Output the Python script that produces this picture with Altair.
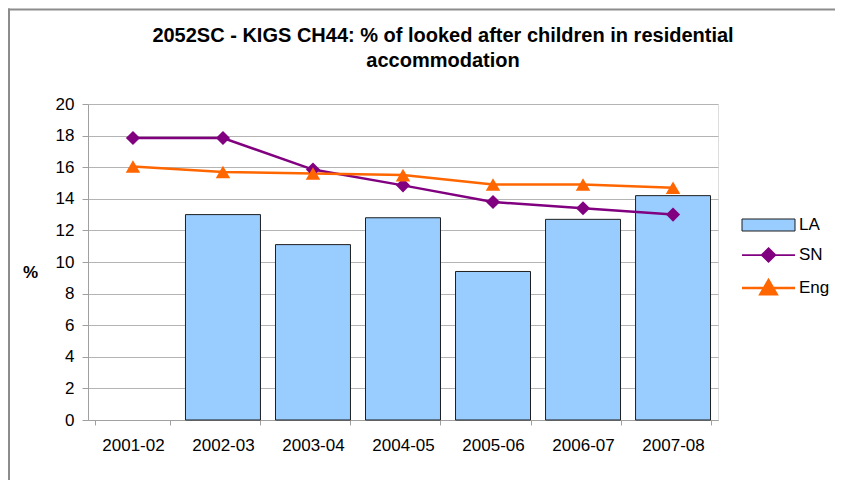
import altair as alt
import pandas as pd

categories = ["2001-02", "2002-03", "2003-04", "2004-05", "2005-06", "2006-07", "2007-08"]
la_values = [None, 13.0, 11.1, 12.8, 9.4, 12.7, 14.2]
sn_values = [17.85, 17.85, 15.85, 14.85, 13.8, 13.4, 13.0]
eng_values = [16.05, 15.7, 15.6, 15.5, 14.9, 14.9, 14.7]
series_names = ["LA", "SN", "Eng"]
y_ticks = [0, 2, 4, 6, 8, 10, 12, 14, 16, 18, 20]

title_lines = ["2052SC - KIGS CH44: % of looked after children in residential", "accommodation"]

rows = []
for name, vals in zip(series_names, [la_values, sn_values, eng_values]):
    for c, v in zip(categories, vals):
        rows.append({"year": c, "series": name, "value": v})
df = pd.DataFrame(rows)

FONT = "Liberation Sans"
W, H = 630, 316

x_enc = alt.X("year:N", sort=categories,
              scale=alt.Scale(domain=categories, paddingInner=0.167, paddingOuter=0.083),
              axis=alt.Axis(title=None, labelAngle=0, labelFontSize=17, labelFont=FONT,
                            labelColor="black", labelPadding=12, tickBand="extent",
                            tickSize=5, tickColor="#A0A0A0", domainColor="#A0A0A0",
                            grid=False))
y_enc = alt.Y("value:Q", scale=alt.Scale(domain=[0, 20], nice=False),
              axis=alt.Axis(values=y_ticks, title="%", titleAngle=0, titleFontSize=17,
                            titleFont=FONT, titleFontWeight="bold", titleX=-58, titleY=168,
                            titleAlign="center", titleBaseline="middle",
                            labelFontSize=17, labelFont=FONT, labelColor="black",
                            labelOverlap=False,
                            labelPadding=8, tickSize=6, tickColor="#A0A0A0",
                            domainColor="#A0A0A0", gridColor="#B4B4B4", grid=True))

base = alt.Chart(df)

bars = base.transform_filter(alt.datum.series == "LA").mark_bar(
    fill="#99CCFF", stroke="#1E1E1E", strokeWidth=1
).encode(x=x_enc, y=y_enc)

stroke_scale = alt.Scale(domain=series_names, range=["#1E1E1E", "#800080", "#FF6600"])
fill_scale = alt.Scale(domain=series_names, range=["#99CCFF", "#800080", "#FF6600"])
# legend glyphs (unit = 12.5 px): box, line+diamond, line+triangle
shape_scale = alt.Scale(domain=series_names, range=[
    "M-1.12,-0.48H3.12V0.48H-1.12Z",
    "M-1.12,0H3.12M1,-0.55L1.55,0L1,0.55L0.45,0Z",
    "M-1.12,0H3.12M1,-0.62L1.65,0.5L0.35,0.5Z",
])
sw_scale = alt.Scale(domain=series_names, range=[1, 2.5, 2.5])

sn_line = base.transform_filter(alt.datum.series == "SN").mark_line(
    strokeWidth=2.5, color="#800080").encode(x=x_enc, y=y_enc)
eng_line = base.transform_filter(alt.datum.series == "Eng").mark_line(
    strokeWidth=2.5, color="#FF6600").encode(x=x_enc, y=y_enc)

sn_points = base.transform_filter(alt.datum.series == "SN").mark_point(
    shape="diamond", filled=True, size=200, color="#800080", opacity=1
).encode(x=x_enc, y=y_enc)

eng_points = base.transform_filter(alt.datum.series == "Eng").mark_point(
    shape="triangle-up", filled=True, size=210, color="#FF6600", opacity=1
).encode(x=x_enc, y=y_enc)

legend = alt.Legend(title=None, orient="none", legendX=654, legendY=108,
                    labelFontSize=17, labelFont=FONT, labelColor="black",
                    symbolSize=625, labelOffset=29, rowPadding=8.5, symbolOpacity=1)

legend_layer = base.transform_filter("false").mark_point(filled=True, size=625, opacity=1).encode(
    x=x_enc,
    y=y_enc,
    shape=alt.Shape("series:N", scale=shape_scale, legend=legend, sort=series_names),
    fill=alt.Fill("series:N", scale=fill_scale, legend=legend, sort=series_names),
    stroke=alt.Stroke("series:N", scale=stroke_scale, legend=legend, sort=series_names),
    strokeWidth=alt.StrokeWidth("series:N", scale=sw_scale, legend=legend, sort=series_names),
)

frame_df = pd.DataFrame({"k": [0]})
top_rule = alt.Chart(frame_df).mark_rule(color="#8C8C8C", strokeWidth=2).encode(
    x=alt.value(-80), x2=alt.value(747), y=alt.value(-94.5))
left_rule = alt.Chart(frame_df).mark_rule(color="#8C8C8C", strokeWidth=2).encode(
    x=alt.value(-79), y=alt.value(-95.5), y2=alt.value(376))

chart = alt.layer(top_rule, left_rule, bars, sn_line, eng_line, sn_points, eng_points,
                  legend_layer).properties(
    width=W, height=H,
    title=alt.TitleParams(text=title_lines, anchor="middle", fontSize=20, font=FONT,
                          fontWeight="bold", color="black", lineHeight=25, offset=-63, dx=40),
    autosize=alt.AutoSizeParams(type="none"),
    padding={"left": 80, "top": 96, "right": 117, "bottom": 60},
).configure_view(stroke="#A0A0A0", strokeWidth=1.5).configure(background="white")

chart.save("out.html", embed_options={"renderer": "svg", "actions": False})
